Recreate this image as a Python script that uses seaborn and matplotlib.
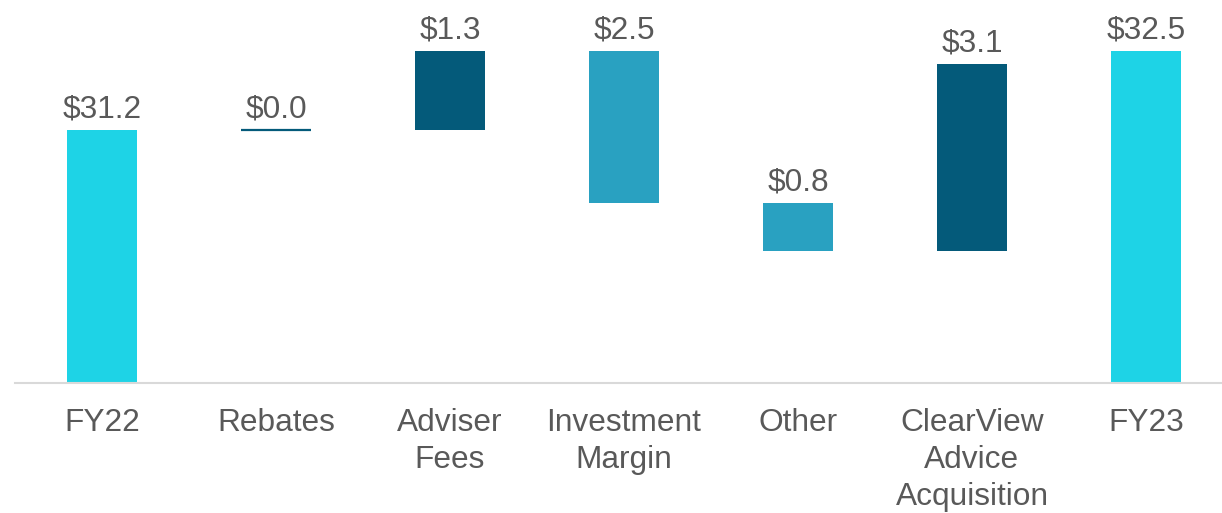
import numpy as np
import pandas as pd
import matplotlib
matplotlib.use("Agg")
import matplotlib.pyplot as plt
import seaborn as sns

# ---- data ----
categories = ["FY22", "Rebates", "Adviser\nFees", "Investment\nMargin", "Other",
              "ClearView\nAdvice\nAcquisition", "FY23"]
kinds = ["total", "delta", "delta", "delta", "delta", "delta", "total"]
values = [31.2, 0.0, 1.3, -2.5, -0.8, 3.1, 32.5]
value_labels = ["$31.2", "$0.0", "$1.3", "$2.5", "$0.8", "$3.1", "$32.5"]

COL_TOTAL = "#1ED3E6"
COL_DARK = "#045A7A"
COL_MID = "#29A1C1"
colors = [COL_TOTAL, COL_DARK, COL_DARK, COL_MID, COL_MID, COL_DARK, COL_TOTAL]

y_min, y_max = 27.02, 33.35

# waterfall geometry derived from the data
bottoms, heights, tops = [], [], []
running = 0.0
for k, v in zip(kinds, values):
    if k == "total":
        bottoms.append(y_min)
        heights.append(v - y_min)
        tops.append(v)
        running = v
    else:
        lo = min(running, running + v)
        hi = max(running, running + v)
        bottoms.append(lo)
        heights.append(hi - lo)
        tops.append(hi)
        running = running + v

df = pd.DataFrame({"cat": categories, "h": heights})

sns.set_theme(style="white")
plt.rcParams["font.family"] = ["Liberation Sans", "DejaVu Sans"]

fig = plt.figure(figsize=(12.22, 5.13), dpi=100)
ax = fig.add_axes([15 / 1222, 130 / 513, 1 - 15 / 1222, 383 / 513])

sns.barplot(data=df, x="cat", y="h", order=categories, color=COL_TOTAL,
            errorbar=None, width=0.4, bottom=bottoms, ax=ax, saturation=1,
            linewidth=0)

for i, p in enumerate(ax.patches):
    p.set_facecolor(colors[i])
    if heights[i] == 0:
        p.set_edgecolor(colors[i])
        p.set_linewidth(1.6)

for i, lab in enumerate(value_labels):
    ax.annotate(lab, (i, tops[i]), xytext=(0, 9), textcoords="offset points",
                ha="center", va="baseline", fontsize=22.8, color="#595959")

ax.set_xlim(-0.5, 6.437)
ax.set_ylim(y_min, y_max)
ax.set_xlabel("")
ax.set_ylabel("")
ax.set_yticks([])
for s in ["top", "right", "left"]:
    ax.spines[s].set_visible(False)
ax.spines["bottom"].set_color("#D9D9D9")
ax.spines["bottom"].set_linewidth(1.5)
ax.tick_params(axis="x", length=0, pad=18, labelsize=22.8, labelcolor="#595959")
for t in ax.get_xticklabels():
    t.set_linespacing(1.3)

fig.savefig("out.png", dpi=100)
